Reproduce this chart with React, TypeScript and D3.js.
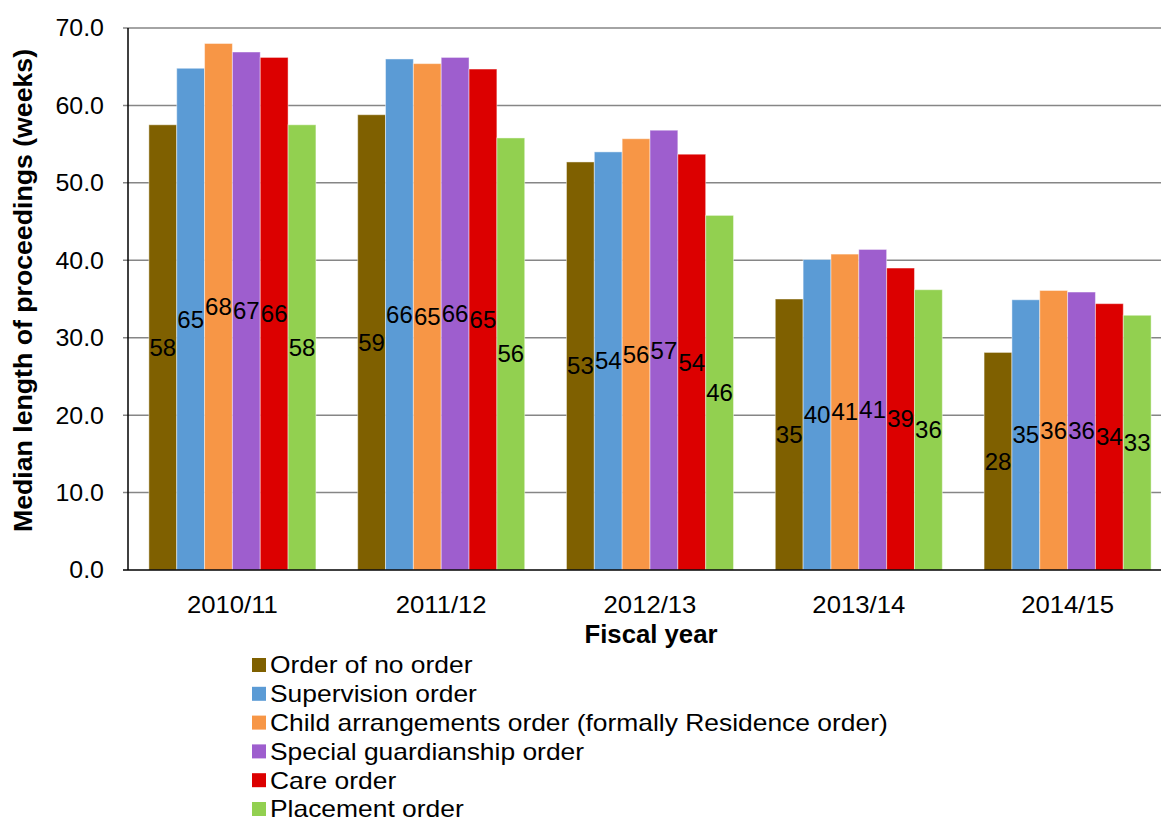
import { useEffect, useRef } from 'react'
import * as d3 from 'd3'

const years = ['2010/11', '2011/12', '2012/13', '2013/14', '2014/15']
const seriesNames = [
  'Order of no order',
  'Supervision order',
  'Child arrangements order (formally Residence order)',
  'Special guardianship order',
  'Care order',
  'Placement order',
]
const seriesColors = ['#7F6000', '#5B9BD5', '#F79646', '#9E5ECE', '#DC0000', '#92D050']

const noOrder = [57.5, 58.8, 52.7, 35.0, 28.1]
const supervision = [64.8, 66.0, 54.0, 40.1, 34.9]
const childArrangements = [68.0, 65.4, 55.7, 40.8, 36.1]
const specialGuardianship = [66.9, 66.2, 56.8, 41.4, 35.9]
const care = [66.2, 64.7, 53.7, 39.0, 34.4]
const placement = [57.5, 55.8, 45.8, 36.2, 32.9]

const yTicks = [0, 10, 20, 30, 40, 50, 60, 70]

const W = 1161
const H = 823
const margin = { left: 128, top: 28, bottom: 570, right: 1172 }
const font = 'Liberation Sans, Arial, sans-serif'

// the source text is drawn a bit wider than the font normally sets it
const stretch = (sel: d3.Selection<SVGTextElement, any, any, any>, k: number) => {
  sel.each(function () {
    const len = this.getComputedTextLength()
    d3.select(this)
      .attr('textLength', len * k)
      .attr('lengthAdjust', 'spacingAndGlyphs')
  })
}

const App = () => {
  const ref = useRef<SVGSVGElement>(null)

  useEffect(() => {
    if (!ref.current) return
    const svg = d3.select(ref.current)
    svg.selectAll('*').remove()

    const series = [noOrder, supervision, childArrangements, specialGuardianship, care, placement]

    const x0 = d3.scaleBand<string>()
      .domain(years)
      .range([margin.left, margin.right])
      .paddingInner(0.2)
      .paddingOuter(0.1)

    const x1 = d3.scaleBand<number>()
      .domain(d3.range(series.length))
      .range([0, x0.bandwidth()])

    const y = d3.scaleLinear().domain([0, 70]).range([margin.bottom, margin.top])

    //gridlines
    svg.append('g')
      .selectAll('line')
      .data(yTicks.filter(t => t > 0))
      .join('line')
        .attr('x1', margin.left - 5)
        .attr('x2', W)
        .attr('y1', d => y(d))
        .attr('y2', d => y(d))
        .attr('stroke', '#868686')
        .attr('stroke-width', 1.5)

    //y tick labels
    const yLabels = svg.append('g')
      .selectAll('text')
      .data(yTicks)
      .join('text')
        .attr('x', 104)
        .attr('y', d => y(d))
        .attr('dy', '0.35em')
        .attr('text-anchor', 'end')
        .attr('font-family', font)
        .attr('font-size', 24)
        .text(d => d3.format('.1f')(d))
    stretch(yLabels, 1.04)

    //bars
    const groups = svg.append('g')
      .selectAll('g')
      .data(years)
      .join('g')
        .attr('transform', d => `translate(${x0(d)},0)`)

    groups.selectAll('rect')
      .data((_, i) => series.map((s, k) => ({ k, v: s[i] })))
      .join('rect')
        .attr('x', d => x1(d.k)!)
        .attr('width', x1.bandwidth())
        .attr('y', d => y(d.v))
        .attr('height', d => y(0) - y(d.v))
        .attr('fill', d => seriesColors[d.k])
        .attr('stroke', 'rgba(255,255,255,0.45)')
        .attr('stroke-width', 1)

    //value labels in the middle of each bar
    groups.selectAll('text')
      .data((_, i) => series.map((s, k) => ({ k, v: s[i] })))
      .join('text')
        .attr('x', d => x1(d.k)! + x1.bandwidth() / 2)
        .attr('y', d => (y(d.v) + y(0)) / 2)
        .attr('dy', '0.35em')
        .attr('text-anchor', 'middle')
        .attr('font-family', font)
        .attr('font-size', 24)
        .attr('fill', '#000')
        .text(d => Math.round(d.v))

    //axes lines
    svg.append('line')
      .attr('x1', margin.left).attr('x2', margin.left)
      .attr('y1', margin.top).attr('y2', margin.bottom)
      .attr('stroke', '#000').attr('stroke-width', 1.5)
    svg.append('line')
      .attr('x1', margin.left - 5).attr('x2', W)
      .attr('y1', margin.bottom).attr('y2', margin.bottom)
      .attr('stroke', '#000').attr('stroke-width', 1.5)

    //x tick labels
    const xLabels = svg.append('g')
      .selectAll('text')
      .data(years)
      .join('text')
        .attr('x', d => x0(d)! + x0.bandwidth() / 2)
        .attr('y', 613)
        .attr('text-anchor', 'middle')
        .attr('font-family', font)
        .attr('font-size', 24)
        .text(d => d)
    stretch(xLabels, 1.07)

    //axis titles
    const xTitle = svg.append('text')
      .attr('x', 651)
      .attr('y', 643)
      .attr('text-anchor', 'middle')
      .attr('font-family', font)
      .attr('font-size', 25)
      .attr('font-weight', 'bold')
      .text('Fiscal year')
    stretch(xTitle, 133 / (xTitle.node() as SVGTextElement).getComputedTextLength())

    const yTitle = svg.append('text')
      .attr('transform', `translate(32,${(49 + 532) / 2}) rotate(-90)`)
      .attr('text-anchor', 'middle')
      .attr('font-family', font)
      .attr('font-size', 26)
      .attr('font-weight', 'bold')
      .text('Median length of proceedings (weeks)')
    stretch(yTitle, 483 / (yTitle.node() as SVGTextElement).getComputedTextLength())

    //legend
    const legend = svg.append('g')
      .selectAll('g')
      .data(seriesNames)
      .join('g')
        .attr('transform', (_, i) => `translate(252,${665 + i * 28.8})`)
    legend.append('rect')
      .attr('x', 0).attr('y', -7)
      .attr('width', 14).attr('height', 14)
      .attr('fill', (_, i) => seriesColors[i])
    const legendText = legend.append('text')
      .attr('x', 18)
      .attr('dy', '0.35em')
      .attr('font-family', font)
      .attr('font-size', 24)
      .text(d => d)
    stretch(legendText, 1.1)

    return () => {
      svg.selectAll('*').remove()
    }
  }, [])

  return (
    <svg
      ref={ref}
      width={W}
      height={H}
      style={{ position: 'absolute', left: 0, top: 0, background: '#fff' }}
    />
  )
}

export default App
